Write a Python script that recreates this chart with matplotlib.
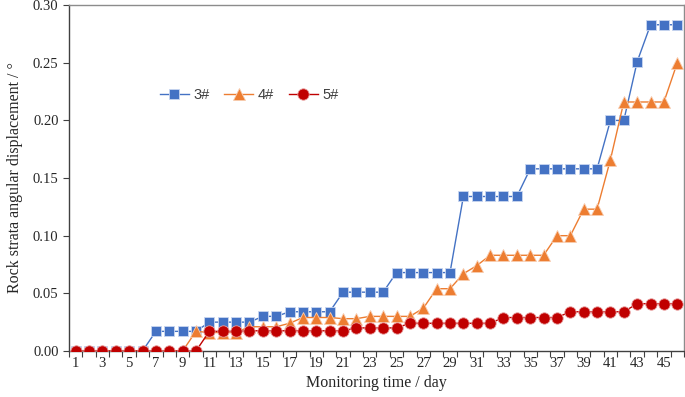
import matplotlib
matplotlib.use("Agg")
import matplotlib.pyplot as plt
from matplotlib.ticker import FixedLocator, FuncFormatter

days = list(range(1, 47))
s3 = [0, 0, 0, 0, 0, 0, 0.017, 0.017, 0.017, 0.017,
      0.025, 0.025, 0.025, 0.025, 0.030, 0.030, 0.034, 0.034, 0.034, 0.034,
      0.051, 0.051, 0.051, 0.051, 0.068, 0.068, 0.068, 0.068, 0.068, 0.134,
      0.134, 0.134, 0.134, 0.134, 0.158, 0.158, 0.158, 0.158, 0.158, 0.158,
      0.200, 0.200, 0.251, 0.283, 0.283, 0.283]
s4 = [0, 0, 0, 0, 0, 0, 0, 0, 0, 0.017,
      0.016, 0.016, 0.016, 0.021, 0.021, 0.021, 0.024, 0.029, 0.029, 0.029,
      0.028, 0.028, 0.030, 0.030, 0.030, 0.030, 0.037, 0.054, 0.054, 0.067,
      0.074, 0.083, 0.083, 0.083, 0.083, 0.083, 0.100, 0.100, 0.123, 0.123,
      0.166, 0.216, 0.216, 0.216, 0.216, 0.250]
s5 = [0, 0, 0, 0, 0, 0, 0, 0, 0, 0,
      0.017, 0.017, 0.017, 0.0175, 0.0175, 0.0175, 0.0175, 0.0175, 0.0175, 0.0175,
      0.0175, 0.020, 0.020, 0.020, 0.020, 0.024, 0.024, 0.024, 0.024, 0.024,
      0.024, 0.024, 0.029, 0.029, 0.029, 0.029, 0.029, 0.034, 0.034, 0.034,
      0.034, 0.034, 0.041, 0.041, 0.041, 0.041]
labels = ["3#", "4#", "5#"]
xlabel = "Monitoring time / day"
ylabel = "Rock strata angular displacement / °"

plt.rcParams['font.family'] = ['Liberation Serif', 'DejaVu Serif']

fig = plt.figure(figsize=(6.85, 3.97), dpi=100)
ax = fig.add_axes([0.1007, 0.116, 0.8978, 0.871])

ax.plot(days, s3, color='#4472C4', lw=1.0, marker='s', ms=7.2,
        mfc='#4472C4', mec='#c9d6f0', mew=0.6, label=labels[0], zorder=3)
ax.plot(days, s4, color='#ED7D31', lw=1.0, marker='^', ms=8.6,
        mfc='#ED7D31', mec='#f8cdb0', mew=0.6, label=labels[1], zorder=4)
ax.plot(days, s5, color='#C00000', lw=1.0, marker='o', ms=8.2,
        mfc='#C00000', mec='#e8a0a0', mew=0.6, label=labels[2], zorder=5)

ax.set_xlim(0.5, 46.5)
ax.set_ylim(0, 0.30)
ax.set_yticks([0, 0.05, 0.10, 0.15, 0.20, 0.25, 0.30])
ax.yaxis.set_major_formatter(FuncFormatter(lambda v, p: f"{v:.2f}"))
ax.xaxis.set_major_locator(FixedLocator([d + 0.5 for d in range(0, 47)]))
ax.xaxis.set_major_formatter(FuncFormatter(lambda v, p: ""))
ax.xaxis.set_minor_locator(FixedLocator(days[::2]))
ax.xaxis.set_minor_formatter(FuncFormatter(lambda v, p: f"{int(round(v))}"))
ax.tick_params(axis='x', which='minor', length=0, labelsize=10.5, pad=4, colors='#262626')
ax.tick_params(axis='x', which='major', length=4, direction='out', color='#404040')
ax.tick_params(axis='y', length=4, direction='out', labelsize=10.5, colors='#262626', color='#404040')

for s in ['top', 'right']:
    ax.spines[s].set_color('#8c8c8c')
    ax.spines[s].set_linewidth(1.0)
for s in ['left', 'bottom']:
    ax.spines[s].set_color('#404040')
    ax.spines[s].set_linewidth(1.0)

ax.set_xlabel(xlabel, fontsize=11.5, color='#262626', labelpad=4)
ax.set_ylabel(ylabel, fontsize=11.5, color='#262626', labelpad=7)

leg = ax.legend(loc='center', bbox_to_anchor=(0.293, 0.74), ncol=3, frameon=False,
                prop={'family': 'Liberation Sans', 'size': 10.5},
                handlelength=2.0, columnspacing=1.0, handletextpad=0.3)
for t in leg.get_texts():
    t.set_color('#404040')

fig.savefig("out.png", dpi=100)
